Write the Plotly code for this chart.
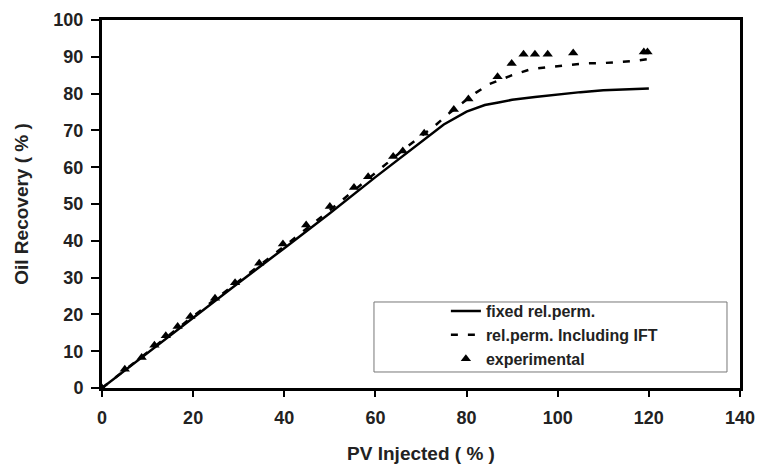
import plotly.graph_objects as go

# Data
x_line = [0, 10, 20, 30, 40, 50, 60, 70, 75, 80, 84, 87, 90, 95, 100, 105, 110, 115, 120]
y_fixed = [0, 9.6, 19.2, 28.6, 38.0, 47.5, 57.3, 67.0, 71.6, 75.1, 76.9, 77.6, 78.3, 79.1, 79.8, 80.4, 80.9, 81.2, 81.4]
x_ift = [0, 10, 20, 30, 40, 50, 60, 67, 73, 76, 82, 85, 90, 94, 98, 102, 106, 110, 113, 117, 120]
y_ift = [0, 9.8, 19.5, 29.0, 38.5, 48.3, 58.6, 65.6, 71.2, 74.5, 80.2, 82.6, 85.0, 86.6, 87.2, 87.8, 88.2, 88.3, 88.5, 88.9, 89.4]

x_exp = [0, 5.0, 8.7, 11.5, 14.0, 16.6, 19.4, 24.8, 29.2, 34.5, 39.7, 44.8, 50.0, 55.3, 58.4,
         63.9, 66.0, 70.7, 77.2, 80.4, 86.8, 89.9, 92.5, 95.0, 97.8, 103.4, 118.9, 119.7]
y_exp = [0, 5.1, 8.3, 11.6, 14.2, 16.7, 19.4, 24.4, 28.6, 33.9, 39.1, 44.3, 49.3, 54.5, 57.4,
         62.9, 64.4, 69.2, 75.7, 78.5, 84.6, 88.2, 90.7, 90.7, 90.7, 91.0, 91.3, 91.3]

x_ticks = [0, 20, 40, 60, 80, 100, 120, 140]
y_ticks = [0, 10, 20, 30, 40, 50, 60, 70, 80, 90, 100]

FONT = "Liberation Sans, Arial, sans-serif"
TXT = "#222"

fig = go.Figure()
fig.add_trace(go.Scatter(x=x_line, y=y_fixed, mode="lines", name="fixed rel.perm.",
                         line=dict(color="black", width=2.5)))
fig.add_trace(go.Scatter(x=x_ift, y=y_ift, mode="lines", name="rel.perm. Including IFT",
                         line=dict(color="black", width=2.5, dash="7px,10px")))
fig.add_trace(go.Scatter(x=x_exp, y=y_exp, mode="markers", name="experimental",
                         marker=dict(symbol="triangle-up", size=9, color="black")))

axis_common = dict(showgrid=False, zeroline=False, showline=True, linecolor="black",
                   linewidth=3, mirror=True, ticks="outside", tickwidth=1.5,
                   tickcolor="black", automargin=False,
                   tickfont=dict(family=FONT, size=18, color=TXT, weight="bold"))

fig.update_xaxes(range=[0, 140], tickvals=x_ticks, ticklen=6, ticklabelstandoff=5,
                 **axis_common,
                 title=dict(text="PV Injected ( % )", standoff=21,
                            font=dict(family=FONT, size=19, color=TXT, weight="bold")))
fig.update_yaxes(range=[0, 100], tickvals=y_ticks, ticklen=8, ticklabelstandoff=4,
                 **axis_common,
                 title=dict(text="Oil Recovery ( % )", standoff=20,
                            font=dict(family=FONT, size=19, color=TXT, weight="bold")))

fig.update_layout(
    width=757, height=467,
    margin=dict(l=102, r=17, t=20, b=79),
    plot_bgcolor="white", paper_bgcolor="white",
    font=dict(family=FONT, color=TXT),
    legend=dict(x=0.539, y=0.255, xanchor="left", yanchor="top",
                bgcolor="rgba(0,0,0,0)", borderwidth=0,
                font=dict(family=FONT, size=16, color=TXT, weight="bold"),
                tracegroupgap=0),
    shapes=[dict(type="rect", xref="paper", yref="paper",
                 x0=0.4263, x1=0.9796, y0=0.0435, y1=0.2337,
                 line=dict(color="#777", width=1), fillcolor="white", layer="below")],
)

fig.write_html("out.html",
               config={"displayModeBar": False},
               post_script="document.body.style.margin='0';document.body.style.overflow='hidden';")
